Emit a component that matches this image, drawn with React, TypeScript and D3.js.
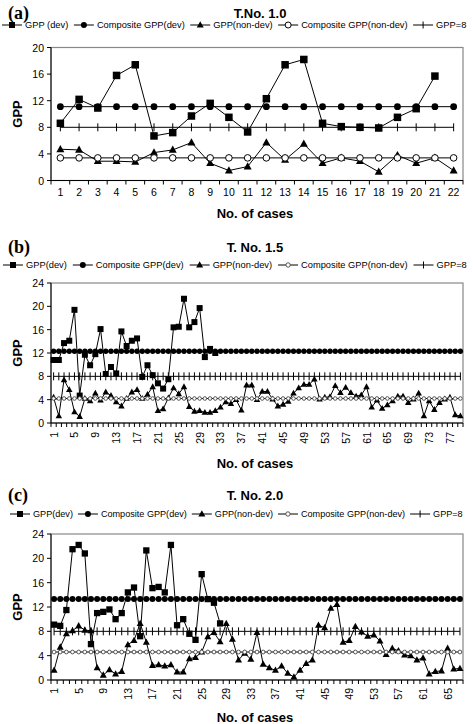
import React from "react";
import * as d3 from "d3";

// ---------- Panel (a) T.No. 1.0 ----------
const aCases = [1, 2, 3, 4, 5, 6, 7, 8, 9, 10, 11, 12, 13, 14, 15, 16, 17, 18, 19, 20, 21, 22];
const aDev = [8.6, 12.2, 10.9, 15.8, 17.4, 6.7, 7.2, 9.7, 11.6, 9.5, 7.3, 12.3, 17.4, 18.2, 8.6, 8.1, 8.0, 7.9, 9.5, 10.8, 15.7];
const aNonDev = [4.7, 4.6, 2.9, 2.9, 2.8, 4.2, 4.6, 5.7, 2.6, 1.5, 2.1, 5.7, 3.1, 5.5, 2.6, 3.4, 2.9, 1.3, 3.8, 2.6, 3.4, 1.5];
const aCompositeDev = 11.1;
const aCompositeNonDev = 3.4;
const aTickLabels = aCases;
const aYTicks = [0, 4, 8, 12, 16, 20];

// ---------- Panel (b) T. No. 1.5 ----------
const bCaseCount = 79;
const bDev = [10.8, 10.8, 13.7, 14.1, 19.4, 4.7, 11.7, 9.9, 11.8, 16.1, 8.4, 9.6, 8.5, 15.7, 13.2, 14.1, 14.5, 7.9, 9.9, 8.2, 6.8, 5.9, 7.5, 16.4, 16.5, 21.3, 16.4, 17.3, 19.7, 11.3, 12.7, 12.0];
const bNonDev = [4.4, 1.2, 7.4, 5.7, 1.9, 1.1, 4.2, 3.8, 5.1, 3.9, 5.3, 4.7, 3.6, 2.9, 4.2, 5.3, 5.7, 4.2, 4.9, 6.2,
  2.1, 2.4, 4.3, 6.0, 5.0, 6.2, 2.8, 2.0, 2.1, 1.8, 1.8, 2.1, 2.7, 3.6, 3.3, 4.0, 2.2, 6.5, 6.5, 4.0,
  5.4, 5.4, 4.1, 2.9, 3.2, 3.7, 5.1, 6.0, 6.6, 6.6, 7.5, 4.1, 4.4, 4.5, 6.4, 5.2, 6.1, 5.2, 4.6, 4.8,
  6.2, 2.7, 3.9, 2.5, 3.1, 3.8, 4.6, 4.6, 3.5, 4.1, 5.1, 1.2, 3.8, 2.3, 3.5, 4.1, 4.4, 1.4, 1.2];
const bCompositeDev = 12.3;
const bCompositeNonDev = 4.2;
const bTickLabels = [1, 5, 9, 13, 17, 21, 25, 29, 33, 37, 41, 45, 49, 53, 57, 61, 65, 69, 73, 77];
const bYTicks = [0, 4, 8, 12, 16, 20, 24];

// ---------- Panel (c) T. No. 2.0 ----------
const cCaseCount = 67;
const cDev = [9.1, 8.9, 11.5, 21.5, 22.2, 20.8, 5.9, 11.0, 11.2, 11.6, 10.0, 11.0, 14.4, 15.2, 7.2, 21.3, 15.1, 15.3, 14.4, 22.2, 9.0, 10.0, 7.6, 6.6, 17.4, 13.3, 12.7, 9.3];
const cNonDev = [1.6, 5.4, 7.6, 8.1, 8.9, 8.2, 8.1, 2.0, 0.8, 1.7, 1.0, 1.4, 5.8, 6.5, 9.3, 6.2, 2.4, 2.5, 2.3, 2.5,
  1.3, 1.3, 3.5, 3.7, 4.6, 7.1, 7.8, 6.3, 9.3, 6.7, 3.3, 4.4, 3.4, 7.8, 2.6, 2.0, 1.6, 2.3, 1.1, 0.5,
  1.6, 2.7, 3.3, 9.0, 8.6, 11.8, 12.4, 6.2, 6.5, 8.8, 7.9, 7.2, 7.4, 6.4, 4.2, 5.2, 4.8, 4.1, 4.0, 3.3,
  3.6, 1.0, 1.4, 1.5, 5.2, 1.8, 1.9];
const cCompositeDev = 13.3;
const cCompositeNonDev = 4.6;
const cTickLabels = [1, 5, 9, 13, 17, 21, 25, 29, 33, 37, 41, 45, 49, 53, 57, 61, 65];
const cYTicks = [0, 4, 8, 12, 16, 20, 24];

const threshold = 8;

const FONT = "'Liberation Sans', Arial, Helvetica, sans-serif";

type Cfg = {
  tag: string;
  title: string;
  legend: string[];
  n: number;
  dev: number[];
  nonDev: number[];
  compDev: number;
  compNonDev: number;
  tickLabels: number[];
  yTicks: number[];
  yMax: number;
  top: number;
  bottom: number;
  titleY: number;
  legendY: number;
  legendStart: number;
  legendFont: number;
  itemGap: number;
  xTitleY: number;
  rotated: boolean;
  xLabelY: number;
  sq: number;
  rDev: number;
  tri: number;
  rOpen: number;
  openStroke: string;
  plusH: number;
  titleX: number;
};

const panels: Cfg[] = [
  {
    tag: "(a)", title: "T.No. 1.0",
    legend: ["GPP (dev)", "Composite GPP(dev)", "GPP(non-dev)", "Composite GPP(non-dev)", "GPP=8"],
    n: aCases.length, dev: aDev, nonDev: aNonDev, compDev: aCompositeDev, compNonDev: aCompositeNonDev,
    tickLabels: aTickLabels, yTicks: aYTicks, yMax: 20,
    top: 47.5, bottom: 180.5, titleY: 13, legendY: 25, legendStart: 2, legendFont: 9.3, itemGap: 5.5,
    xTitleY: 213, rotated: false, xLabelY: 192,
    sq: 7.5, rDev: 3.4, tri: 8, rOpen: 3.3, openStroke: "#000", plusH: 8, titleX: 260,
  },
  {
    tag: "(b)", title: "T. No. 1.5",
    legend: ["GPP(dev)", "Composite GPP(dev)", "GPP(non-dev)", "Composite GPP(non-dev)", "GPP=8"],
    n: bCaseCount, dev: bDev, nonDev: bNonDev, compDev: bCompositeDev, compNonDev: bCompositeNonDev,
    tickLabels: bTickLabels, yTicks: bYTicks, yMax: 24,
    top: 283, bottom: 423, titleY: 247, legendY: 265, legendStart: 3, legendFont: 9.3, itemGap: 6,
    xTitleY: 463, rotated: true, xLabelY: 432,
    sq: 6, rDev: 2.7, tri: 6.5, rOpen: 1.8, openStroke: "#555", plusH: 8, titleX: 255,
  },
  {
    tag: "(c)", title: "T. No. 2.0",
    legend: ["GPP(dev)", "Composite GPP(dev)", "GPP(non-dev)", "Composite GPP(non-dev)", "GPP=8"],
    n: cCaseCount, dev: cDev, nonDev: cNonDev, compDev: cCompositeDev, compNonDev: cCompositeNonDev,
    tickLabels: cTickLabels, yTicks: cYTicks, yMax: 24,
    top: 534, bottom: 680, titleY: 495, legendY: 514, legendStart: 10, legendFont: 9.1, itemGap: 5,
    xTitleY: 717, rotated: true, xLabelY: 688,
    sq: 6.3, rDev: 3, tri: 7, rOpen: 1.9, openStroke: "#555", plusH: 8, titleX: 255,
  },
];

const LEFT = 51;
const RIGHT = 463;
const SYM = 20; // legend symbol line length
const SYM_GAP = 3; // gap symbol -> text

let ctx: CanvasRenderingContext2D | null = null;
function textWidth(s: string, size: number) {
  if (!ctx) {
    const c = document.createElement("canvas");
    ctx = c.getContext("2d");
  }
  if (!ctx) return s.length * size * 0.5;
  ctx.font = `${size}px 'Liberation Sans', Arial, sans-serif`;
  return ctx.measureText(s).width;
}

function Marker({ kind, x, y, c }: { kind: number; x: number; y: number; c: Cfg }) {
  if (kind === 0) return <rect x={x - c.sq / 2} y={y - c.sq / 2} width={c.sq} height={c.sq} fill="#000" />;
  if (kind === 1) return <circle cx={x} cy={y} r={c.rDev} fill="#000" />;
  if (kind === 2) {
    const w = c.tri, h = c.tri * 0.9;
    return <path d={`M${x},${y - h * 0.6}L${x + w / 2},${y + h * 0.4}L${x - w / 2},${y + h * 0.4}Z`} fill="#000" />;
  }
  if (kind === 3) return <circle cx={x} cy={y} r={c.rOpen} fill="#fff" stroke={c.openStroke} strokeWidth={1} />;
  return <line x1={x} x2={x} y1={y - c.plusH / 2} y2={y + c.plusH / 2} stroke="#000" strokeWidth={1} />;
}

function Panel({ c }: { c: Cfg }) {
  const cats = d3.range(1, c.n + 1);
  const x = d3.scaleBand<number>().domain(cats).range([LEFT, RIGHT]).padding(0);
  const cx = (i: number) => (x(i) as number) + x.bandwidth() / 2;
  const y = d3.scaleLinear().domain([0, c.yMax]).range([c.bottom, c.top]);
  const line = d3.line<[number, number]>().x((d) => cx(d[0])).y((d) => y(d[1]));

  const series: [number, number][][] = [
    c.dev.map((v, i) => [i + 1, v]),
    cats.map((k) => [k, c.compDev]),
    c.nonDev.map((v, i) => [i + 1, v]),
    cats.map((k) => [k, c.compNonDev]),
    cats.map((k) => [k, threshold]),
  ];

  // legend layout
  const legendItems: { x: number; text: string }[] = [];
  let lx = c.legendStart;
  c.legend.forEach((t) => {
    legendItems.push({ x: lx, text: t });
    lx += SYM + SYM_GAP + textWidth(t, c.legendFont) + c.itemGap;
  });

  const midX = (LEFT + RIGHT) / 2;

  return (
    <g>
      <text x={8} y={c.titleY} fontFamily="'Liberation Serif', 'Times New Roman', serif" fontWeight="bold" fontSize={18} dominantBaseline="central">{c.tag}</text>
      <text x={c.titleX} y={c.titleY} fontFamily={FONT} fontWeight="bold" fontSize={13} textAnchor="middle" dominantBaseline="central">{c.title}</text>

      {legendItems.map((it, k) => (
        <g key={k}>
          <line x1={it.x} x2={it.x + SYM} y1={c.legendY} y2={c.legendY} stroke="#000" strokeWidth={1} />
          <Marker kind={k} x={it.x + SYM / 2} y={c.legendY} c={{ ...c, sq: 6, rDev: 3, tri: 7, rOpen: k === 3 && c.rotated ? 2.2 : 3, plusH: 7 }} />
          <text x={it.x + SYM + SYM_GAP} y={c.legendY} fontFamily={FONT} fontSize={c.legendFont} dominantBaseline="central">{it.text}</text>
        </g>
      ))}

      {/* plot area border */}
      <rect x={LEFT} y={c.top} width={RIGHT - LEFT} height={c.bottom - c.top} fill="none" stroke="#888" strokeWidth={1.2} />
      <line x1={LEFT} x2={LEFT} y1={c.top} y2={c.bottom} stroke="#000" strokeWidth={1} />
      <line x1={LEFT} x2={RIGHT} y1={c.bottom} y2={c.bottom} stroke="#000" strokeWidth={1} />

      {/* y ticks */}
      {c.yTicks.map((t) => (
        <g key={t}>
          <line x1={LEFT - 4} x2={LEFT} y1={y(t)} y2={y(t)} stroke="#000" />
          <text x={LEFT - 7} y={y(t)} fontFamily={FONT} fontSize={10.5} textAnchor="end" dominantBaseline="central">{t}</text>
        </g>
      ))}
      {/* x ticks at category boundaries */}
      {d3.range(0, c.n + 1).map((k) => {
        const xx = LEFT + k * x.bandwidth();
        return <line key={k} x1={xx} x2={xx} y1={c.bottom} y2={c.bottom + 4} stroke="#000" />;
      })}
      {c.tickLabels.map((t) =>
        c.rotated ? (
          <text key={t} transform={`translate(${cx(t)},${c.xLabelY}) rotate(-90)`} fontFamily={FONT} fontSize={10.5} textAnchor="end" dominantBaseline="central">{t}</text>
        ) : (
          <text key={t} x={cx(t)} y={c.xLabelY} fontFamily={FONT} fontSize={10.5} textAnchor="middle" dominantBaseline="central">{t}</text>
        )
      )}

      <text transform={`translate(17,${(c.top + c.bottom) / 2}) rotate(-90)`} fontFamily={FONT} fontWeight="bold" fontSize={13} textAnchor="middle" dominantBaseline="central">GPP</text>
      <text x={midX - 2} y={c.xTitleY} fontFamily={FONT} fontWeight="bold" fontSize={13} textAnchor="middle" dominantBaseline="central">No. of cases</text>

      {series.map((s, k) => (
        <g key={k}>
          <path d={line(s) || ""} fill="none" stroke="#000" strokeWidth={1} />
          {s.map((d, j) => (
            <Marker key={j} kind={k} x={cx(d[0])} y={y(d[1])} c={c} />
          ))}
        </g>
      ))}
    </g>
  );
}

export default function App() {
  return (
    <svg width={473} height={724} style={{ position: "absolute", left: 0, top: 0, background: "#fff" }}>
      <rect width={473} height={724} fill="#fff" />
      {panels.map((p, i) => (
        <Panel key={i} c={p} />
      ))}
    </svg>
  );
}
